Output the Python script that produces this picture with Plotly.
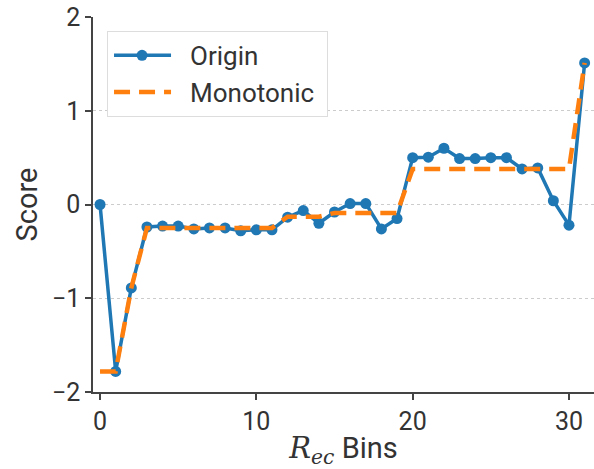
import plotly.graph_objects as go

bins = list(range(32))
origin = [0.0, -1.78, -0.89, -0.24, -0.23, -0.23, -0.26, -0.25, -0.25, -0.28, -0.27,
          -0.27, -0.135, -0.065, -0.20, -0.08, 0.01, 0.01, -0.26, -0.15, 0.50, 0.505,
          0.60, 0.49, 0.49, 0.50, 0.50, 0.38, 0.39, 0.04, -0.22, 1.51]
monotonic = [-1.78, -1.78, -0.89] + [-0.25] * 9 + [-0.13] * 3 + [-0.09] * 5 + [0.38] * 11 + [1.51]
x_ticks = [0, 10, 20, 30]
y_ticks = [-2, -1, 0, 1, 2]

fig = go.Figure()
fig.add_trace(go.Scatter(x=bins, y=origin, mode="lines+markers", name="Origin",
                         line=dict(color="#1f77b4", width=3.5),
                         marker=dict(color="#1f77b4", size=11)))
fig.add_trace(go.Scatter(x=bins, y=monotonic, mode="lines", name="Monotonic",
                         line=dict(color="#ff7f0e", width=4.5, dash="16px,9px")))

axis_common = dict(showline=True, linecolor="#444", linewidth=1.5, ticks="outside",
                   ticklen=6, tickwidth=1.5, tickcolor="#444", zeroline=False,
                   tickfont=dict(size=25, color="#333", family="Roboto"))
fig.update_xaxes(range=[-0.45, 31.6], tickvals=x_ticks, showgrid=False,
                 title=dict(text='<span style="font-family:DejaVu Serif"><i>R</i><sub><i>ec</i></sub></span> Bins',
                            font=dict(size=29, color="#333", family="Roboto"), standoff=4),
                 **axis_common)
fig.update_yaxes(range=[-2, 2], tickvals=y_ticks, showgrid=True, gridcolor="#cccccc",
                 griddash="dot", gridwidth=1,
                 title=dict(text="Score", font=dict(size=29, color="#333", family="Roboto"), standoff=6),
                 **axis_common)
fig.update_layout(width=594, height=469, margin=dict(l=93, r=0, t=17, b=77),
                  plot_bgcolor="white", paper_bgcolor="white",
                  font=dict(family="Roboto", color="#333"),
                  legend=dict(x=0.028, y=0.963, xanchor="left", yanchor="top",
                              bgcolor="white", bordercolor="#dddddd", borderwidth=1,
                              font=dict(size=26, color="#333"), itemwidth=72))

post = """
document.body.style.margin='0';
document.body.style.overflow='hidden';
var gd = document.getElementById('{plot_id}');
gd.querySelectorAll('.legend .legendlines path').forEach(function(p){p.setAttribute('d','M6,0h57');});
gd.querySelectorAll('.legend .legendpoints path').forEach(function(p){p.setAttribute('transform','translate(34,0)');});
var bg = gd.querySelector('.legend rect.bg');
if (bg) { bg.setAttribute('width', 220); }
"""
fig.write_html("out.html", config={"displayModeBar": False}, post_script=post)
